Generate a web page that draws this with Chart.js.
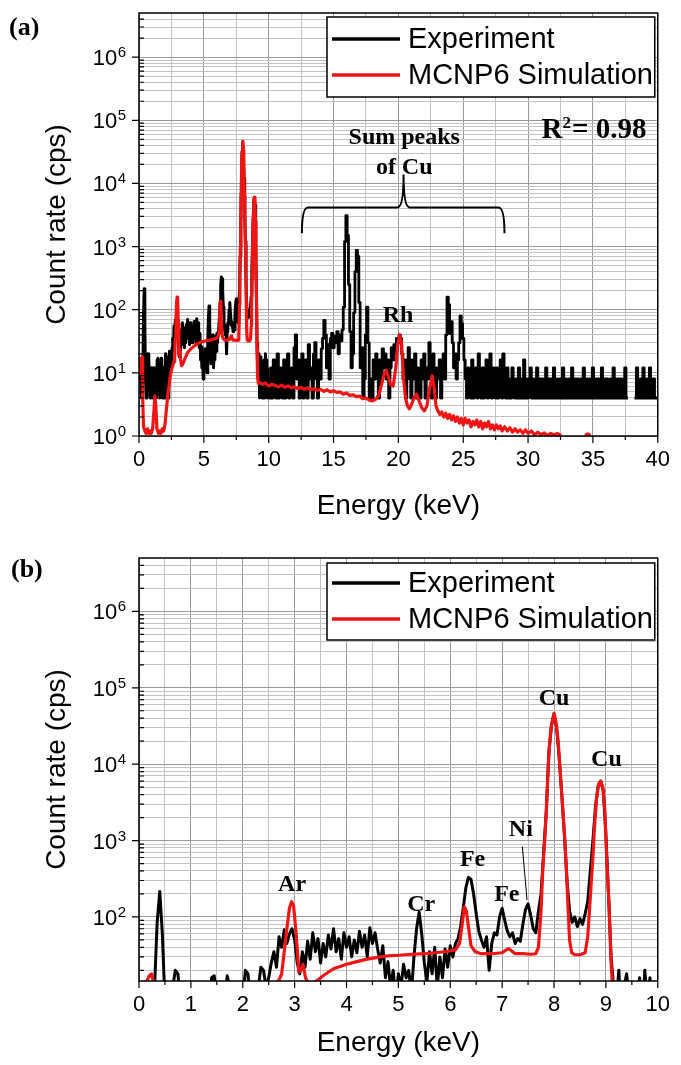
<!DOCTYPE html>
<html>
<head>
<meta charset="utf-8">
<script src="https://cdn.jsdelivr.net/npm/chart.js@4.4.1/dist/chart.umd.min.js"></script>
<style>
  body { margin: 0; background: #fff; }
  canvas { display: block; }
</style>
</head>
<body>
<canvas id="chartA" width="681" height="535"></canvas>
<canvas id="chartB" width="681" height="530"></canvas>
<script>
// Experiment (black), 0-10 keV, rebinned to 0.05 keV channels (cps)
const expLowStartKeV = 0;
const expLowStepKeV = 0.05;
const expLowRate = [
  12, 14, 8, 12, 4, 8, 12, 85, 215, 60,
  8, 4, 8, 12, 20, 18, 8, 4, 12, 8,
  12, 4, 8, 12, 4, 8, 12, 4, 16, 17,
  8, 12, 4, 8, 17, 12, 4, 8, 12, 4,
  8, 20, 18, 8, 12, 4, 12, 22, 20, 12,
  16, 25, 35, 22, 55, 40, 68, 45, 60, 70,
  50, 25, 18, 35, 22, 48, 28, 62, 35, 52,
  25, 45, 30, 58, 38, 70, 35, 52, 28, 62,
  40, 55, 30, 50, 34, 65, 40, 58, 30, 72,
  45, 62, 38, 25, 42, 16, 26, 12, 20, 8,
  18, 12, 24, 16, 20, 10, 30, 70, 115, 60,
  25, 14, 35, 18, 40, 12, 30, 16, 38, 22,
  42, 30, 45, 52, 75, 130, 240, 330, 310, 200,
  110, 65, 50, 40, 55, 20, 45, 62, 58, 100,
  130, 90, 65, 55, 62, 45, 52, 48, 80, 125,
  148, 105, 70, 62, 120, 200, 700, 2300, 14000, 32000,
  46000, 30000, 12000, 4000, 1200, 300, 120, 85, 100, 75,
  95, 80, 110, 160, 400, 1000, 2800, 5200, 6000, 4500,
  1200, 200, 30, 12, 8, 20, 4, 12, 18, 8,
  4, 12, 8, 16, 4, 20, 8, 16, 4, 12
];

// Experiment (black), 10-40 keV, 0.1 keV channels (null = empty channels)
const expHighStartKeV = 10;
const expHighStepKeV = 0.1;
const expHighRate = [
  8, 4, 12, 4, 16, 8, 4, 20, 4, 12,
  8, 4, 16, 4, 8, 20, 4, 12, 8, 4,
  25, 40, 8, 16, 4, 12, 20, 4, 8, 16,
  4, 28, 8, 12, 4, 20, 30, 8, 4, 16,
  8, 24, 35, 68, 40, 12, 28, 8, 35, 42,
  25, 38, 30, 45, 20, 40, 32, 48, 110, 1200,
  3100, 1500, 250, 45, 12, 20, 90, 400, 870, 700,
  130, 12, 25, 4, 8, 40, 110, 30, 4, 8,
  4, 16, 8, 20, 12, 4, 16, 8, 24, 12,
  20, 8, 16, 4, 12, 25, 16, 28, 20, 35,
  30, 40, 35, 20, 8, 16, 4, 12, 25, 8,
  4, 16, 8, 20, 4, 12, 8, 4, 16, 8,
  20, 4, 12, 8, 30, 16, 4, 20, 8, 4,
  12, 8, 16, 4, 12, 20, 8, 40, 158, 120,
  42, 65, 30, 12, 20, 8, 16, 30, 80, 60,
  35, 16, 8, 4, 12, 8, 4, 16, 4, 8,
  12, 4, 20, 8, 4, 12, 4, 8, 16, 4,
  8, 20, 4, 12, 8, 4, 12, 4, 8, 16,
  4, 20, 8, 4, 12, 4, 8, 4, 12, 8,
  4, 8, 4, 12, 4, 8, 4, 16, 4, 8,
  4, 8, 12, 4, 8, 4, 4, 12, 4, 8,
  4, 8, 4, 4, 12, 4, 8, 4, 8, 4,
  12, 4, 8, 4, 4, 8, 4, 12, 4, 8,
  4, 4, 8, 4, 12, 4, 8, 4, 8, 4,
  4, 8, 4, 12, 4, 8, 4, 4, 8, 4,
  12, 4, 8, 4, 8, 4, 4, 12, 4, 8,
  4, 8, 4, 4, 8, 4, 12, 4, 8, 4,
  8, 4, 8, 4, 4, 12, 4, 4, null, null,
  null, null, 4, 4, 12, 4, 4, 8, 4, 12,
  4, 4, 8, 4, 12, 4, 4, 8, 4, 4,
  4
];

// MCNP6 simulation (red)
const simEnergy = [
  0.00, 0.05, 0.10, 0.15, 0.20, 0.24, 0.27, 0.30, 0.35, 0.45, 0.55,
  0.65, 0.75, 0.85, 0.95, 1.05, 1.15, 1.22, 1.30, 1.38, 1.50,
  1.60, 1.70, 1.80, 1.90, 2.00, 2.10, 2.20, 2.30, 2.40, 2.50,
  2.60, 2.70, 2.75, 2.80, 2.85, 2.90, 2.94, 2.98, 3.03, 3.08,
  3.12, 3.16, 3.21, 3.28, 3.35, 3.45, 3.55, 3.75, 4.00, 4.20,
  4.40, 4.60, 4.80, 5.00, 5.25, 5.50, 5.70, 5.90, 6.10, 6.18,
  6.23, 6.27, 6.31, 6.35, 6.40, 6.48, 6.60, 6.80, 7.00, 7.08,
  7.13, 7.18, 7.25, 7.40, 7.55, 7.65, 7.70, 7.75, 7.78, 7.82,
  7.85, 7.88, 7.91, 7.95, 8.00, 8.04, 8.08, 8.13, 8.17, 8.21,
  8.24, 8.27, 8.30, 8.34, 8.40, 8.50, 8.60, 8.65, 8.68, 8.72,
  8.75, 8.78, 8.82, 8.86, 8.90, 8.94, 8.98, 9.02, 9.06, 9.10,
  9.14, 9.20, 9.30, 9.50, 9.75, 10.00, 10.25, 10.50, 10.75, 11.00,
  11.25, 11.50, 11.75, 12.00, 12.25, 12.50, 12.75, 13.00, 13.25, 13.50,
  13.75, 14.00, 14.25, 14.50, 14.75, 15.00, 15.25, 15.50, 15.75, 16.00,
  16.25, 16.50, 16.75, 17.00, 17.25, 17.50, 17.75, 18.00, 18.25, 18.50,
  18.70, 18.90, 19.05, 19.20, 19.40, 19.60, 19.80, 19.95, 20.10, 20.25,
  20.40, 20.55, 20.70, 20.85, 21.00, 21.20, 21.40, 21.60, 21.80, 22.00,
  22.20, 22.40, 22.60, 22.75, 22.90, 23.05, 23.20, 23.35, 23.50, 23.65,
  23.80, 23.95, 24.10, 24.25, 24.40, 24.55, 24.70, 24.85, 25.00, 25.15,
  25.30, 25.45, 25.60, 25.75, 25.90, 26.05, 26.20, 26.35, 26.50, 26.65,
  26.80, 26.95, 27.10, 27.25, 27.40, 27.55, 27.70, 27.85, 28.00, 28.20,
  28.40, 28.60, 28.80, 29.00, 29.20, 29.40, 29.60, 29.80, 30.00, 30.25,
  30.50, 30.75, 31.00, 31.25, 31.50, 31.75, 32.00, 32.25, 32.55, 32.60,
  34.40, 34.60, 34.80
];
const simRate = [
  10, 12, 14, 14.5, 17, 18, 15, 4, 1.4, 1.2, 1.1,
  1.3, 1.1, 1.2, 1.1, 1.3, 2.5, 4.3, 3.0, 1.3, 1.1,
  1.2, 1.1, 1.3, 1.2, 1.5, 2.5, 4, 6, 8.5, 11,
  13, 15, 18, 35, 70, 130, 158, 140, 60, 19,
  20, 24, 16, 13, 13.5, 15, 17, 21, 24, 26,
  28, 29.5, 31, 31.5, 32.5, 33, 34, 35, 37, 45,
  80, 136, 120, 75, 42, 35, 33, 33, 34, 37,
  38.5, 36, 33, 33, 32.5, 33, 40, 120, 370, 1000,
  2300, 7000, 17000, 32000, 46000, 35000, 20000, 6300, 2500, 1000,
  400, 135, 50, 34, 32, 32, 34, 55, 112, 300,
  600, 1500, 3500, 5500, 6000, 5000, 2500, 500, 150, 25,
  9, 6.8, 7, 6.6, 6.9, 6.2, 6.6, 6.3, 6.0, 6.4,
  5.9, 6.2, 5.8, 6.0, 5.6, 5.9, 5.5, 5.8, 5.4, 5.6,
  5.3, 5.5, 5.1, 5.4, 5.0, 5.2, 4.9, 5.0, 4.6, 4.8,
  4.4, 4.5, 4.2, 4.3, 3.9, 4.0, 3.7, 3.6, 3.8, 4.5,
  6.5, 9.5, 11, 9, 6.5, 6.2, 12, 28, 40, 28,
  8, 4, 3, 2.7, 3.1, 4.0, 4.6, 3.6, 2.8, 2.5,
  3.0, 5.5, 9, 6, 3, 2.5, 2.2, 2.4, 2.0, 2.3,
  1.9, 2.2, 1.8, 2.1, 1.7, 2.0, 1.6, 1.9, 1.5, 1.9,
  1.6, 1.8, 1.4, 1.7, 1.5, 1.8, 1.4, 1.7, 1.3, 1.6,
  1.4, 1.7, 1.3, 1.5, 1.25, 1.5, 1.3, 1.45, 1.2, 1.4,
  1.2, 1.35, 1.15, 1.3, 1.15, 1.25, 1.1, 1.25, 1.1, 1.2,
  1.05, 1.15, 1.05, 1.12, 1.02, 1.1, 1.05, 1.1, 1.02, null,
  1.02, 1.08, 1.02
];

// axes: labelled ticks
const xLabelsA = [0, 5, 10, 15, 20, 25, 30, 35, 40];
const xLabelsB = [0, 1, 2, 3, 4, 5, 6, 7, 8, 9, 10];
const yDecadesA = [0, 1, 2, 3, 4, 5, 6];
const yDecadesB = [2, 3, 4, 5, 6];

const RED = "#f01414";
const SANS = "'Liberation Sans', Arial, sans-serif";
const SERIF = "'Liberation Serif', 'Times New Roman', serif";
const legendOrder = ["Experiment", "MCNP6 Simulation"];

function channelPoints(start, step, rates) {
  return rates.map((v, i) => ({ x: +(start + i * step).toFixed(3), y: v }));
}
const expLowData = channelPoints(expLowStartKeV, expLowStepKeV, expLowRate);
const expHighData = channelPoints(expHighStartKeV, expHighStepKeV, expHighRate);
const simData = simEnergy.map((e, i) => ({ x: e, y: simRate[i] }));

function isDecade(v) {
  const l = Math.log10(v);
  return Math.abs(l - Math.round(l)) < 1e-9;
}

function logTicks(decades, min, max) {
  const out = [];
  for (let n = decades[0] - 1; n <= decades[decades.length - 1]; n++) {
    for (let m = 1; m <= 9; m++) {
      const v = m * Math.pow(10, n);
      if (v >= min && v < max) out.push(v);
    }
  }
  return out;
}

function halfTicks(labels) {
  const out = [];
  for (let i = 0; i < labels.length; i++) {
    out.push(labels[i]);
    if (i < labels.length - 1) out.push((labels[i] + labels[i + 1]) / 2);
  }
  return out;
}

const panelDecor = {
  id: "panelDecor",
  afterDraw(chart, args, o) {
    const { ctx, chartArea: a, scales } = chart;
    const x = scales.x, y = scales.y;
    const px = (e) => x.getPixelForValue(e);
    const py = (lv) => y.getPixelForValue(Math.pow(10, lv));
    ctx.save();

    // frame
    ctx.strokeStyle = "#000";
    ctx.lineWidth = 1.5;
    ctx.strokeRect(a.left, a.top, a.right - a.left, a.bottom - a.top);

    // tick marks
    ctx.lineWidth = 1.2;
    ctx.beginPath();
    x.ticks.forEach((t) => {
      const p = x.getPixelForValue(t.value);
      const len = o.xLabels.includes(t.value) ? 7 : 4;
      ctx.moveTo(p, a.bottom);
      ctx.lineTo(p, a.bottom + len);
    });
    y.ticks.forEach((t) => {
      const p = y.getPixelForValue(t.value);
      if (isDecade(t.value)) {
        ctx.moveTo(a.left - 7, p);
        ctx.lineTo(a.left, p);
      } else {
        ctx.moveTo(a.left, p);
        ctx.lineTo(a.left + 5, p);
      }
    });
    ctx.stroke();

    // y tick labels 10^n
    ctx.fillStyle = "#000";
    ctx.textAlign = "left";
    ctx.textBaseline = "alphabetic";
    o.yDecades.forEach((n) => {
      const p = py(n);
      ctx.font = "15px " + SANS;
      const ew = ctx.measureText(String(n)).width;
      ctx.fillText(String(n), 126 - ew, p);
      ctx.font = "22px " + SANS;
      const bw = ctx.measureText("10").width;
      ctx.fillText("10", 126 - ew - bw - 0.5, p + 8);
    });

    // panel label
    ctx.font = "bold 26px " + SERIF;
    ctx.fillText(o.panel.text, o.panel.x, o.panel.y);

    // annotations
    ctx.textAlign = "center";
    o.notes.forEach((n) => {
      ctx.font = "bold " + (n.size || 24) + "px " + SERIF;
      ctx.fillText(n.text, px(n.e), py(n.lv) + 0.33 * (n.size || 24));
    });
    if (o.leader) {
      ctx.strokeStyle = "#000";
      ctx.lineWidth = 1;
      ctx.beginPath();
      ctx.moveTo(px(o.leader.e0), py(o.leader.lv0));
      ctx.lineTo(px(o.leader.e1), py(o.leader.lv1));
      ctx.stroke();
    }
    if (o.brace) {
      const b = o.brace;
      const xl = px(b.e0), xr = px(b.e1), xc = px(b.ec);
      const yb = py(b.lvBar), yt = py(b.lvTip), yc = py(b.lvCusp);
      const r = 6;
      ctx.strokeStyle = "#000";
      ctx.lineWidth = 2;
      ctx.beginPath();
      ctx.moveTo(xl, yt);
      ctx.quadraticCurveTo(xl, yb, xl + r, yb);
      ctx.lineTo(xc - r, yb);
      ctx.quadraticCurveTo(xc, yb, xc, yc);
      ctx.quadraticCurveTo(xc, yb, xc + r, yb);
      ctx.lineTo(xr - r, yb);
      ctx.quadraticCurveTo(xr, yb, xr, yt);
      ctx.stroke();
    }
    if (o.rsq) {
      const big = "bold 29px " + SERIF, small = "bold 17px " + SERIF;
      ctx.font = big;
      const wR = ctx.measureText("R").width;
      const wT = ctx.measureText("= 0.98").width;
      ctx.font = small;
      const w2 = ctx.measureText("2").width;
      const base = py(o.rsq.lv) + 10;
      let sx = px(o.rsq.e) - (wR + w2 + wT);
      ctx.textAlign = "left";
      ctx.font = big;
      ctx.fillText("R", sx, base);
      ctx.font = small;
      ctx.fillText("2", sx + wR, base - 10);
      ctx.font = big;
      ctx.fillText("= 0.98", sx + wR + w2 + 1, base);
    }

    // legend
    const lg = o.legend;
    const L = a.left + lg.dx, T = a.top + lg.dy, R = a.right - lg.dr, B = T + lg.h;
    ctx.fillStyle = "#fff";
    ctx.fillRect(L, T, R - L, B - T);
    ctx.strokeStyle = "#000";
    ctx.lineWidth = 1.5;
    ctx.strokeRect(L, T, R - L, B - T);
    legendOrder.forEach((label, k) => {
      const ds = chart.data.datasets.find((d) => d.label === label);
      const yy = T + lg.rows[k];
      ctx.strokeStyle = ds.borderColor;
      ctx.lineWidth = 3.5;
      ctx.beginPath();
      ctx.moveTo(L + 5, yy);
      ctx.lineTo(L + 73, yy);
      ctx.stroke();
      ctx.fillStyle = "#000";
      ctx.font = "29px " + SANS;
      ctx.textAlign = "left";
      ctx.textBaseline = "middle";
      ctx.fillText(label, L + 81, yy + 1);
    });
    ctx.restore();
  },
};

function makePanel(id, p) {
  const majorGrid = "#999999", minorGrid = "#c2c2c2";
  return new Chart(document.getElementById(id), {
    type: "line",
    data: {
      datasets: [
        { label: "MCNP6 Simulation", data: simData, borderColor: RED, borderWidth: 3.2, order: 0 },
        { label: "Experiment", data: expLowData, borderColor: "#000", borderWidth: 3, order: 1 },
        { label: "Experiment", data: expHighData, borderColor: "#000", borderWidth: 2.8, stepped: "middle", order: 1 },
      ],
    },
    options: {
      responsive: false,
      animation: false,
      events: [],
      elements: { point: { radius: 0 }, line: { tension: 0, borderJoinStyle: "round" } },
      datasets: { line: { clip: 0, spanGaps: false } },
      layout: { padding: { top: p.padTop, right: 17, left: 0, bottom: 0 } },
      plugins: {
        legend: { display: false },
        tooltip: { enabled: false },
        panelDecor: p.decor,
      },
      scales: {
        x: {
          type: "linear",
          min: p.xLabels[0],
          max: p.xLabels[p.xLabels.length - 1],
          afterBuildTicks: (s) => { s.ticks = halfTicks(p.xLabels).map((v) => ({ value: v })); },
          afterFit: (s) => { s.height = p.xAxisHeight; },
          ticks: {
            autoSkip: false,
            maxRotation: 0,
            padding: p.xTickPad,
            color: "#000",
            font: { family: SANS, size: 22 },
            callback: (v) => (p.xLabels.includes(v) ? String(v) : ""),
          },
          grid: {
            drawTicks: false,
            lineWidth: 1,
            color: (c) => (c.tick && p.xLabels.includes(c.tick.value) ? majorGrid : minorGrid),
            borderDash: (c) => (c.tick && p.xLabels.includes(c.tick.value) ? [] : [2, 2]),
          },
          border: { display: false },
          title: {
            display: true,
            text: "Energy (keV)",
            color: "#000",
            font: { family: SANS, size: 28 },
            padding: { top: 0, bottom: p.xTitlePad },
          },
        },
        y: {
          type: "logarithmic",
          min: p.yMin,
          max: p.yMax,
          afterBuildTicks: (s) => { s.ticks = logTicks(p.decor.yDecades, p.yMin, p.yMax).map((v) => ({ value: v })); },
          afterFit: (s) => { s.width = 139; },
          ticks: { display: false },
          grid: {
            drawTicks: false,
            lineWidth: 1,
            color: (c) => (c.tick && isDecade(c.tick.value) ? majorGrid : minorGrid),
            borderDash: (c) => (c.tick && isDecade(c.tick.value) ? [] : [3, 2]),
          },
          border: { display: false },
          title: {
            display: true,
            text: "Count rate (cps)",
            color: "#000",
            font: { family: SANS, size: 28 },
            padding: { top: 40, bottom: 0 },
          },
        },
      },
    },
    plugins: [panelDecor],
  });
}

makePanel("chartA", {
  xLabels: xLabelsA,
  yMin: 1,
  yMax: 5e6,
  padTop: 13,
  xAxisHeight: 99,
  xTickPad: 11,
  xTitlePad: 12,
  decor: {
    xLabels: xLabelsA,
    yDecades: yDecadesA,
    panel: { text: "(a)", x: 9, y: 35 },
    legend: { dx: 188, dy: 4, dr: 3, h: 80, rows: [22, 58] },
    notes: [
      { text: "Sum peaks", e: 20.45, lv: 4.755 },
      { text: "of Cu", e: 20.45, lv: 4.28 },
      { text: "Rh", e: 19.98, lv: 1.93 },
    ],
    brace: { e0: 12.56, e1: 28.18, ec: 20.4, lvBar: 3.62, lvTip: 3.21, lvCusp: 4.14 },
    rsq: { e: 39.05, lv: 4.87 },
  },
});

makePanel("chartB", {
  xLabels: xLabelsB,
  yMin: 14.5,
  yMax: 5e6,
  padTop: 23,
  xAxisHeight: 84,
  xTickPad: 11,
  xTitlePad: 5,
  decor: {
    xLabels: xLabelsB,
    yDecades: yDecadesB,
    panel: { text: "(b)", x: 11, y: 42 },
    legend: { dx: 188, dy: 5, dr: 3, h: 77, rows: [20, 56] },
    notes: [
      { text: "Ar", e: 2.95, lv: 2.44 },
      { text: "Cr", e: 5.44, lv: 2.18 },
      { text: "Fe", e: 6.43, lv: 2.77 },
      { text: "Fe", e: 7.09, lv: 2.31 },
      { text: "Ni", e: 7.36, lv: 3.16 },
      { text: "Cu", e: 8.0, lv: 4.88 },
      { text: "Cu", e: 9.01, lv: 4.08 },
    ],
    leader: { e0: 7.39, lv0: 2.92, e1: 7.48, lv1: 2.22 },
  },
});
</script>
</body>
</html>
